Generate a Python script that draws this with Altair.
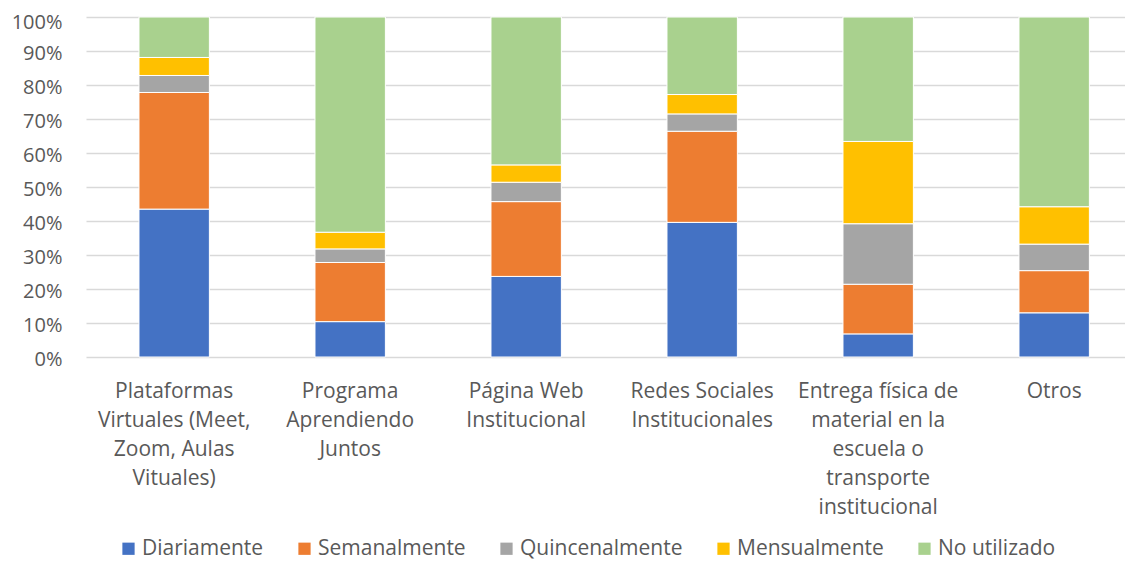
import json
import altair as alt
import pandas as pd

categories = [
    "Plataformas Virtuales (Meet, Zoom, Aulas Vituales)",
    "Programa Aprendiendo Juntos",
    "Página Web Institucional",
    "Redes Sociales Institucionales",
    "Entrega física de material en la escuela o transporte institucional",
    "Otros",
]
label_lines = [
    ["Plataformas", "Virtuales (Meet,", "Zoom, Aulas", "Vituales)"],
    ["Programa", "Aprendiendo", "Juntos"],
    ["Página Web", "Institucional"],
    ["Redes Sociales", "Institucionales"],
    ["Entrega física de", "material en la", "escuela o", "transporte", "institucional"],
    ["Otros"],
]
series = ["Diariamente", "Semanalmente", "Quincenalmente", "Mensualmente", "No utilizado"]
colors = ["#4472C4", "#ED7D31", "#A5A5A5", "#FFC000", "#A9D18E"]

diariamente = [43.5, 10.4, 23.7, 39.6, 6.8, 13.0]
semanalmente = [34.3, 17.4, 22.0, 26.8, 14.6, 12.4]
quincenalmente = [5.0, 4.0, 5.7, 5.1, 17.8, 7.8]
mensualmente = [5.3, 4.9, 5.1, 5.7, 24.2, 11.0]
no_utilizado = [11.9, 63.3, 43.5, 22.8, 36.6, 55.8]

values = [diariamente, semanalmente, quincenalmente, mensualmente, no_utilizado]
rows = []
for si, (s, vals) in enumerate(zip(series, values)):
    for c, v in zip(categories, vals):
        rows.append({"categoria": c, "serie": s, "orden": si, "valor": v})
df = pd.DataFrame(rows)

lookup = json.dumps(dict(zip(categories, label_lines)), ensure_ascii=False)

FONT = "Open Sans"
TXT = "#595959"

chart = (
    alt.Chart(df)
    .mark_bar(stroke="white", strokeWidth=1)
    .encode(
        x=alt.X(
            "categoria:N",
            sort=categories,
            scale=alt.Scale(paddingInner=0.6, paddingOuter=0.2517, align=0.598),
            axis=alt.Axis(
                title=None,
                labelAngle=0,
                ticks=False,
                tickSize=0,
                domain=False,
                labelPadding=23,
                labelFont=FONT,
                labelFontSize=21,
                labelColor=TXT,
                labelLineHeight=29,
                labelBaseline="top",
                labelExpr=lookup + "[datum.label]",
            ),
        ),
        y=alt.Y(
            "valor:Q",
            stack="zero",
            scale=alt.Scale(domain=[0, 100], nice=False),
            axis=alt.Axis(
                title=None,
                values=list(range(0, 101, 10)),
                labelExpr="datum.value + '%'",
                ticks=False,
                tickSize=0,
                domain=False,
                labelPadding=24,
                labelOffset={"condition": {"test": "datum.value == 100", "value": 5.5}, "value": 2},
                labelFont=FONT,
                labelFontSize=20,
                labelColor=TXT,
                gridColor="#D9D9D9",
                gridWidth=1.5,
            ),
        ),
        color=alt.Color(
            "serie:N",
            scale=alt.Scale(domain=series, range=colors),
            legend=alt.Legend(
                title=None,
                orient="none",
                direction="horizontal",
                legendX=32,
                legendY=521,
                symbolType="square",
                symbolSize=150,
                symbolStrokeWidth=0,
                labelFont=FONT,
                labelFontSize=21,
                labelColor=TXT,
                labelLimit=0,
                labelOffset=3,
                columnPadding=30,
            ),
        ),
        order=alt.Order("orden:Q", sort="ascending"),
    )
    .properties(
        width=1039,
        height=340,
        autosize=alt.AutoSizeParams(type="none"),
        padding={"left": 78, "top": 9, "right": 0, "bottom": 204},
    )
    .configure_view(stroke=None)
)

chart.save("out.html", embed_options={"renderer": "svg", "actions": False})
